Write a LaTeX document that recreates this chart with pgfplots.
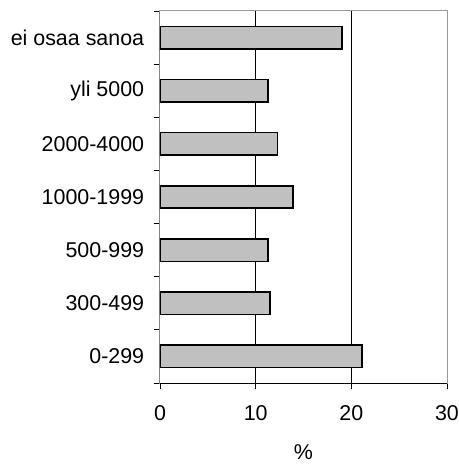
\documentclass[border=0pt]{standalone}
\usepackage{pgfplots}
\pgfplotsset{compat=1.18}
\usepackage{fontspec}
\setmainfont{Liberation Sans}
\definecolor{barfill}{HTML}{C0C0C0}
\definecolor{framegray}{HTML}{9A9A9A}
\newcommand{\lf}{\fontsize{21.5}{25}\selectfont}
\begin{document}
\lf
\begin{tikzpicture}
\begin{axis}[
  scale only axis, width=287bp, height=372bp,
  xbar, bar width=0.42,
  xmin=0, xmax=30, ymin=-0.5, ymax=6.5,
  /pgf/number format/assume math mode=true,
  xtick={0,10,20,30},
  ytick={-0.5,0.5,...,6.5},
  yticklabels={},
  xtick pos=bottom, ytick pos=left,
  extra y ticks={0,1,2,3,4,5,6},
  extra y tick labels={0-299,300-499,500-999,1000-1999,2000-4000,yli 5000,ei osaa sanoa},
  extra y tick style={major tick length=0pt, yticklabel style={xshift=-8.5bp}},
  extra x ticks={10,20},
  extra x tick labels={},
  extra x tick style={grid=major, major tick length=0pt},
  major grid style={black, line width=0.8bp},
  tick align=outside,
  major tick length=6bp,
  tick style={black, line width=0.8bp},
  axis line style={framegray, line width=1bp},
  xticklabel style={yshift=-9bp, font=\lf},
  yticklabel style={font=\lf},
  xlabel={\%},
  xlabel style={at={(axis description cs:0.5,0)}, anchor=center, yshift=-69bp, font=\lf},
]
\addplot[fill=barfill, draw=black, line width=1.6bp] coordinates {
  (21.1,0) (11.5,1) (11.3,2) (13.9,3) (12.3,4) (11.3,5) (19.0,6)};
\draw[black, line width=1bp] (rel axis cs:0,1) -- (rel axis cs:0,0) -- (rel axis cs:1,0);
\end{axis}
\pgfresetboundingbox
\path[use as bounding box] (-160bp,-82bp) rectangle (299bp,383bp);
\end{tikzpicture}
\end{document}
